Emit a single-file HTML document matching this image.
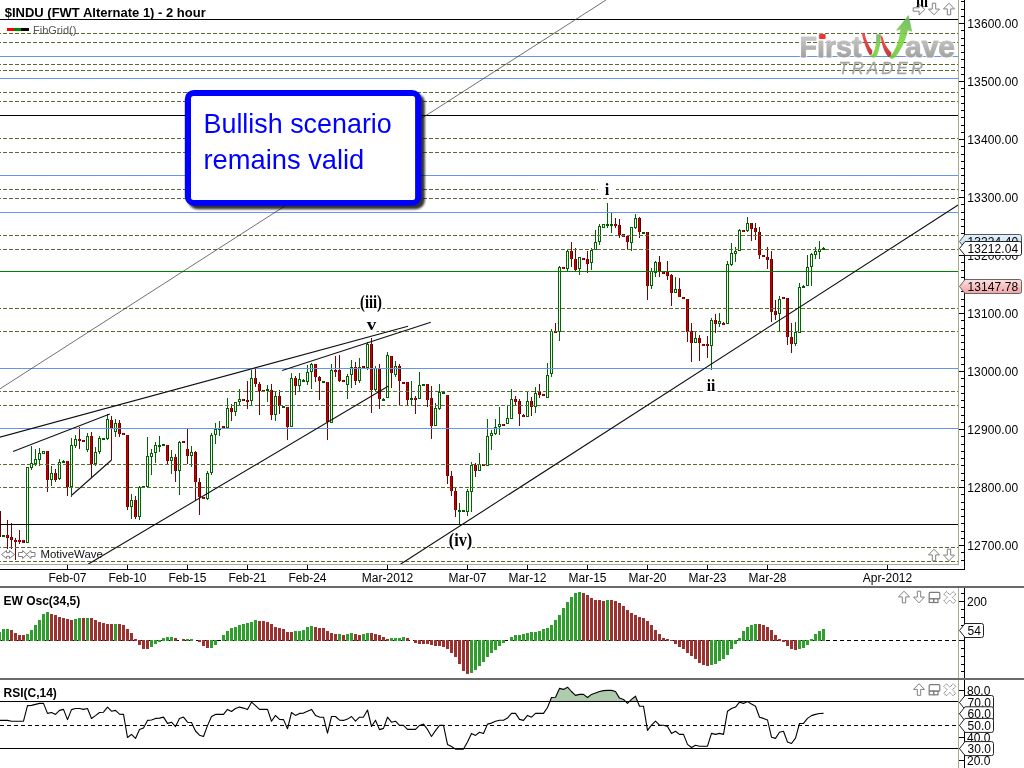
<!DOCTYPE html>
<html><head><meta charset="utf-8"><title>$INDU (FWT Alternate 1) - 2 hour</title>
<style>
html,body{margin:0;padding:0;background:#fff;}
body{width:1024px;height:768px;overflow:hidden;}
svg{display:block;}
text{font-family:"Liberation Sans",Arial,sans-serif;}
svg{opacity:0.999;}
.ax{font-size:12px;fill:#000;}
.b{font-weight:bold;font-size:12px;fill:#000;}
.w{font-family:"Liberation Serif","Times New Roman",serif;font-weight:bold;fill:#000;}
</style></head><body>
<svg width="1024" height="768" viewBox="0 0 1024 768">
<defs>
<linearGradient id="gp" x1="0" y1="0" x2="0" y2="1"><stop offset="0" stop-color="#fde0e0"/><stop offset="1" stop-color="#f2a4a4"/></linearGradient>
<linearGradient id="gb" x1="0" y1="0" x2="0" y2="1"><stop offset="0" stop-color="#e4f2fc"/><stop offset="1" stop-color="#b9d9f0"/></linearGradient>
<linearGradient id="gl" x1="0" y1="0" x2="0" y2="1"><stop offset="0" stop-color="#d2d2d2"/><stop offset="0.55" stop-color="#a9a9a9"/><stop offset="1" stop-color="#8a8a8a"/></linearGradient>
<linearGradient id="gg" x1="0" y1="1" x2="0.3" y2="0"><stop offset="0" stop-color="#6cc43a"/><stop offset="0.5" stop-color="#7ed63e"/><stop offset="1" stop-color="#6dbb58"/></linearGradient>
<linearGradient id="gr" x1="0" y1="0" x2="0.3" y2="1"><stop offset="0" stop-color="#ff3c3c"/><stop offset="1" stop-color="#bd2a2e"/></linearGradient>
<filter id="sh" x="-10%" y="-10%" width="125%" height="130%"><feGaussianBlur stdDeviation="1.2"/></filter>
<clipPath id="cp"><rect x="0" y="0" width="959" height="565"/></clipPath>
</defs>
<rect width="1024" height="768" fill="#fff"/>
<g id="candles" shape-rendering="crispEdges" clip-path="url(#cp)">
<rect x="-2" y="511" width="1" height="26" fill="#8f0000"/><rect x="-1" y="511" width="1" height="26" fill="#c40000"/><rect x="0" y="511" width="1" height="26" fill="#560000"/>
<rect x="2" y="535" width="3" height="2" fill="#005a00"/>
<rect x="7" y="520" width="1" height="29" fill="#7d0000"/>
<rect x="6" y="535" width="1" height="3" fill="#8f0000"/><rect x="7" y="535" width="1" height="3" fill="#c40000"/><rect x="8" y="535" width="1" height="3" fill="#560000"/>
<rect x="11" y="523" width="1" height="26" fill="#7d0000"/>
<rect x="10" y="537" width="1" height="3" fill="#8f0000"/><rect x="11" y="537" width="1" height="3" fill="#c40000"/><rect x="12" y="537" width="1" height="3" fill="#560000"/>
<rect x="15" y="538" width="1" height="22" fill="#7d0000"/>
<rect x="14" y="540" width="1" height="2" fill="#8f0000"/><rect x="15" y="540" width="1" height="2" fill="#c40000"/><rect x="16" y="540" width="1" height="2" fill="#560000"/>
<rect x="19" y="530" width="1" height="14" fill="#7d0000"/>
<rect x="18" y="540" width="1" height="2" fill="#8f0000"/><rect x="19" y="540" width="1" height="2" fill="#c40000"/><rect x="20" y="540" width="1" height="2" fill="#560000"/>
<rect x="22" y="540" width="1" height="3" fill="#8f0000"/><rect x="23" y="540" width="1" height="3" fill="#c40000"/><rect x="24" y="540" width="1" height="3" fill="#560000"/>
<rect x="26" y="467" width="3" height="76" fill="#006400"/><rect x="27" y="468" width="1" height="74" fill="#fff"/>
<rect x="31" y="446" width="1" height="24" fill="#006400"/>
<rect x="30" y="463" width="3" height="5" fill="#006400"/><rect x="31" y="464" width="1" height="3" fill="#fff"/>
<rect x="35" y="449" width="1" height="17" fill="#006400"/>
<rect x="34" y="459" width="3" height="5" fill="#006400"/><rect x="35" y="460" width="1" height="3" fill="#fff"/>
<rect x="39" y="448" width="1" height="18" fill="#006400"/>
<rect x="38" y="453" width="3" height="7" fill="#006400"/><rect x="39" y="454" width="1" height="5" fill="#fff"/>
<rect x="42" y="451" width="3" height="3" fill="#006400"/><rect x="43" y="452" width="1" height="1" fill="#fff"/>
<rect x="47" y="451" width="1" height="41" fill="#7d0000"/>
<rect x="46" y="451" width="1" height="29" fill="#8f0000"/><rect x="47" y="451" width="1" height="29" fill="#c40000"/><rect x="48" y="451" width="1" height="29" fill="#560000"/>
<rect x="51" y="466" width="1" height="20" fill="#006400"/>
<rect x="50" y="473" width="3" height="7" fill="#006400"/><rect x="51" y="474" width="1" height="5" fill="#fff"/>
<rect x="55" y="469" width="1" height="13" fill="#7d0000"/>
<rect x="54" y="473" width="1" height="7" fill="#8f0000"/><rect x="55" y="473" width="1" height="7" fill="#c40000"/><rect x="56" y="473" width="1" height="7" fill="#560000"/>
<rect x="59" y="459" width="1" height="21" fill="#006400"/>
<rect x="58" y="462" width="3" height="17" fill="#006400"/><rect x="59" y="463" width="1" height="15" fill="#fff"/>
<rect x="63" y="460" width="1" height="3" fill="#006400"/>
<rect x="62" y="461" width="3" height="2" fill="#005a00"/>
<rect x="67" y="461" width="1" height="35" fill="#7d0000"/>
<rect x="66" y="461" width="1" height="26" fill="#8f0000"/><rect x="67" y="461" width="1" height="26" fill="#c40000"/><rect x="68" y="461" width="1" height="26" fill="#560000"/>
<rect x="71" y="438" width="1" height="59" fill="#006400"/>
<rect x="70" y="445" width="3" height="42" fill="#006400"/><rect x="71" y="446" width="1" height="40" fill="#fff"/>
<rect x="75" y="435" width="1" height="13" fill="#006400"/>
<rect x="74" y="439" width="3" height="7" fill="#006400"/><rect x="75" y="440" width="1" height="5" fill="#fff"/>
<rect x="79" y="427" width="1" height="22" fill="#7d0000"/>
<rect x="78" y="439" width="1" height="2" fill="#8f0000"/><rect x="79" y="439" width="1" height="2" fill="#c40000"/><rect x="80" y="439" width="1" height="2" fill="#560000"/>
<rect x="82" y="440" width="1" height="2" fill="#8f0000"/><rect x="83" y="440" width="1" height="2" fill="#c40000"/><rect x="84" y="440" width="1" height="2" fill="#560000"/>
<rect x="87" y="433" width="1" height="19" fill="#006400"/>
<rect x="86" y="436" width="3" height="14" fill="#006400"/><rect x="87" y="437" width="1" height="12" fill="#fff"/>
<rect x="91" y="432" width="1" height="45" fill="#7d0000"/>
<rect x="90" y="436" width="1" height="28" fill="#8f0000"/><rect x="91" y="436" width="1" height="28" fill="#c40000"/><rect x="92" y="436" width="1" height="28" fill="#560000"/>
<rect x="95" y="447" width="1" height="19" fill="#006400"/>
<rect x="94" y="452" width="3" height="12" fill="#006400"/><rect x="95" y="453" width="1" height="10" fill="#fff"/>
<rect x="99" y="436" width="1" height="18" fill="#006400"/>
<rect x="98" y="438" width="3" height="14" fill="#006400"/><rect x="99" y="439" width="1" height="12" fill="#fff"/>
<rect x="102" y="438" width="3" height="2" fill="#005a00"/>
<rect x="107" y="414" width="1" height="26" fill="#006400"/>
<rect x="106" y="419" width="3" height="20" fill="#006400"/><rect x="107" y="420" width="1" height="18" fill="#fff"/>
<rect x="111" y="416" width="1" height="44" fill="#7d0000"/>
<rect x="110" y="420" width="1" height="8" fill="#8f0000"/><rect x="111" y="420" width="1" height="8" fill="#c40000"/><rect x="112" y="420" width="1" height="8" fill="#560000"/>
<rect x="115" y="419" width="1" height="18" fill="#006400"/>
<rect x="114" y="423" width="3" height="9" fill="#006400"/><rect x="115" y="424" width="1" height="7" fill="#fff"/>
<rect x="119" y="420" width="1" height="17" fill="#7d0000"/>
<rect x="118" y="423" width="1" height="11" fill="#8f0000"/><rect x="119" y="423" width="1" height="11" fill="#c40000"/><rect x="120" y="423" width="1" height="11" fill="#560000"/>
<rect x="122" y="433" width="1" height="2" fill="#8f0000"/><rect x="123" y="433" width="1" height="2" fill="#c40000"/><rect x="124" y="433" width="1" height="2" fill="#560000"/>
<rect x="127" y="435" width="1" height="75" fill="#7d0000"/>
<rect x="126" y="435" width="1" height="72" fill="#8f0000"/><rect x="127" y="435" width="1" height="72" fill="#c40000"/><rect x="128" y="435" width="1" height="72" fill="#560000"/>
<rect x="131" y="494" width="1" height="25" fill="#006400"/>
<rect x="130" y="500" width="3" height="7" fill="#006400"/><rect x="131" y="501" width="1" height="5" fill="#fff"/>
<rect x="135" y="496" width="1" height="23" fill="#7d0000"/>
<rect x="134" y="500" width="1" height="17" fill="#8f0000"/><rect x="135" y="500" width="1" height="17" fill="#c40000"/><rect x="136" y="500" width="1" height="17" fill="#560000"/>
<rect x="139" y="486" width="1" height="34" fill="#006400"/>
<rect x="138" y="487" width="3" height="30" fill="#006400"/><rect x="139" y="488" width="1" height="28" fill="#fff"/>
<rect x="142" y="486" width="3" height="2" fill="#005a00"/>
<rect x="147" y="437" width="1" height="50" fill="#006400"/>
<rect x="146" y="456" width="3" height="31" fill="#006400"/><rect x="147" y="457" width="1" height="29" fill="#fff"/>
<rect x="151" y="449" width="1" height="26" fill="#006400"/>
<rect x="150" y="453" width="3" height="4" fill="#006400"/><rect x="151" y="454" width="1" height="2" fill="#fff"/>
<rect x="155" y="442" width="1" height="21" fill="#006400"/>
<rect x="154" y="445" width="3" height="8" fill="#006400"/><rect x="155" y="446" width="1" height="6" fill="#fff"/>
<rect x="159" y="436" width="1" height="16" fill="#006400"/>
<rect x="158" y="445" width="3" height="2" fill="#005a00"/>
<rect x="162" y="444" width="3" height="2" fill="#005a00"/>
<rect x="167" y="445" width="1" height="19" fill="#7d0000"/>
<rect x="166" y="445" width="1" height="16" fill="#8f0000"/><rect x="167" y="445" width="1" height="16" fill="#c40000"/><rect x="168" y="445" width="1" height="16" fill="#560000"/>
<rect x="171" y="450" width="1" height="24" fill="#006400"/>
<rect x="170" y="457" width="3" height="4" fill="#006400"/><rect x="171" y="458" width="1" height="2" fill="#fff"/>
<rect x="175" y="454" width="1" height="28" fill="#7d0000"/>
<rect x="174" y="457" width="1" height="14" fill="#8f0000"/><rect x="175" y="457" width="1" height="14" fill="#c40000"/><rect x="176" y="457" width="1" height="14" fill="#560000"/>
<rect x="179" y="441" width="1" height="54" fill="#006400"/>
<rect x="178" y="442" width="3" height="29" fill="#006400"/><rect x="179" y="443" width="1" height="27" fill="#fff"/>
<rect x="182" y="441" width="1" height="2" fill="#8f0000"/><rect x="183" y="441" width="1" height="2" fill="#c40000"/><rect x="184" y="441" width="1" height="2" fill="#560000"/>
<rect x="187" y="429" width="1" height="35" fill="#7d0000"/>
<rect x="186" y="449" width="1" height="7" fill="#8f0000"/><rect x="187" y="449" width="1" height="7" fill="#c40000"/><rect x="188" y="449" width="1" height="7" fill="#560000"/>
<rect x="191" y="446" width="1" height="21" fill="#006400"/>
<rect x="190" y="452" width="3" height="4" fill="#006400"/><rect x="191" y="453" width="1" height="2" fill="#fff"/>
<rect x="195" y="451" width="1" height="49" fill="#7d0000"/>
<rect x="194" y="452" width="1" height="30" fill="#8f0000"/><rect x="195" y="452" width="1" height="30" fill="#c40000"/><rect x="196" y="452" width="1" height="30" fill="#560000"/>
<rect x="199" y="478" width="1" height="37" fill="#7d0000"/>
<rect x="198" y="482" width="1" height="15" fill="#8f0000"/><rect x="199" y="482" width="1" height="15" fill="#c40000"/><rect x="200" y="482" width="1" height="15" fill="#560000"/>
<rect x="202" y="497" width="1" height="2" fill="#8f0000"/><rect x="203" y="497" width="1" height="2" fill="#c40000"/><rect x="204" y="497" width="1" height="2" fill="#560000"/>
<rect x="207" y="471" width="1" height="29" fill="#006400"/>
<rect x="206" y="473" width="3" height="26" fill="#006400"/><rect x="207" y="474" width="1" height="24" fill="#fff"/>
<rect x="211" y="433" width="1" height="42" fill="#006400"/>
<rect x="210" y="435" width="3" height="38" fill="#006400"/><rect x="211" y="436" width="1" height="36" fill="#fff"/>
<rect x="215" y="423" width="1" height="21" fill="#006400"/>
<rect x="214" y="429" width="3" height="6" fill="#006400"/><rect x="215" y="430" width="1" height="4" fill="#fff"/>
<rect x="219" y="421" width="1" height="15" fill="#006400"/>
<rect x="218" y="428" width="3" height="2" fill="#005a00"/>
<rect x="222" y="426" width="1" height="2" fill="#8f0000"/><rect x="223" y="426" width="1" height="2" fill="#c40000"/><rect x="224" y="426" width="1" height="2" fill="#560000"/>
<rect x="227" y="398" width="1" height="30" fill="#006400"/>
<rect x="226" y="408" width="3" height="20" fill="#006400"/><rect x="227" y="409" width="1" height="18" fill="#fff"/>
<rect x="231" y="404" width="1" height="17" fill="#7d0000"/>
<rect x="230" y="408" width="1" height="4" fill="#8f0000"/><rect x="231" y="408" width="1" height="4" fill="#c40000"/><rect x="232" y="408" width="1" height="4" fill="#560000"/>
<rect x="235" y="402" width="1" height="14" fill="#006400"/>
<rect x="234" y="402" width="3" height="10" fill="#006400"/><rect x="235" y="403" width="1" height="8" fill="#fff"/>
<rect x="239" y="389" width="1" height="16" fill="#006400"/>
<rect x="238" y="399" width="3" height="3" fill="#006400"/><rect x="239" y="400" width="1" height="1" fill="#fff"/>
<rect x="242" y="399" width="1" height="2" fill="#8f0000"/><rect x="243" y="399" width="1" height="2" fill="#c40000"/><rect x="244" y="399" width="1" height="2" fill="#560000"/>
<rect x="247" y="381" width="1" height="28" fill="#7d0000"/>
<rect x="246" y="400" width="1" height="2" fill="#8f0000"/><rect x="247" y="400" width="1" height="2" fill="#c40000"/><rect x="248" y="400" width="1" height="2" fill="#560000"/>
<rect x="251" y="370" width="1" height="35" fill="#006400"/>
<rect x="250" y="378" width="3" height="23" fill="#006400"/><rect x="251" y="379" width="1" height="21" fill="#fff"/>
<rect x="255" y="369" width="1" height="18" fill="#7d0000"/>
<rect x="254" y="378" width="1" height="6" fill="#8f0000"/><rect x="255" y="378" width="1" height="6" fill="#c40000"/><rect x="256" y="378" width="1" height="6" fill="#560000"/>
<rect x="259" y="382" width="1" height="33" fill="#7d0000"/>
<rect x="258" y="384" width="1" height="7" fill="#8f0000"/><rect x="259" y="384" width="1" height="7" fill="#c40000"/><rect x="260" y="384" width="1" height="7" fill="#560000"/>
<rect x="262" y="390" width="1" height="2" fill="#8f0000"/><rect x="263" y="390" width="1" height="2" fill="#c40000"/><rect x="264" y="390" width="1" height="2" fill="#560000"/>
<rect x="267" y="385" width="1" height="17" fill="#006400"/>
<rect x="266" y="389" width="3" height="2" fill="#005a00"/>
<rect x="271" y="384" width="1" height="36" fill="#7d0000"/>
<rect x="270" y="390" width="1" height="25" fill="#8f0000"/><rect x="271" y="390" width="1" height="25" fill="#c40000"/><rect x="272" y="390" width="1" height="25" fill="#560000"/>
<rect x="275" y="392" width="1" height="29" fill="#006400"/>
<rect x="274" y="396" width="3" height="19" fill="#006400"/><rect x="275" y="397" width="1" height="17" fill="#fff"/>
<rect x="279" y="390" width="1" height="24" fill="#7d0000"/>
<rect x="278" y="396" width="1" height="10" fill="#8f0000"/><rect x="279" y="396" width="1" height="10" fill="#c40000"/><rect x="280" y="396" width="1" height="10" fill="#560000"/>
<rect x="282" y="406" width="3" height="2" fill="#005a00"/>
<rect x="287" y="407" width="1" height="33" fill="#7d0000"/>
<rect x="286" y="407" width="1" height="20" fill="#8f0000"/><rect x="287" y="407" width="1" height="20" fill="#c40000"/><rect x="288" y="407" width="1" height="20" fill="#560000"/>
<rect x="291" y="373" width="1" height="54" fill="#006400"/>
<rect x="290" y="378" width="3" height="49" fill="#006400"/><rect x="291" y="379" width="1" height="47" fill="#fff"/>
<rect x="295" y="376" width="1" height="19" fill="#7d0000"/>
<rect x="294" y="378" width="1" height="8" fill="#8f0000"/><rect x="295" y="378" width="1" height="8" fill="#c40000"/><rect x="296" y="378" width="1" height="8" fill="#560000"/>
<rect x="299" y="373" width="1" height="18" fill="#006400"/>
<rect x="298" y="379" width="3" height="7" fill="#006400"/><rect x="299" y="380" width="1" height="5" fill="#fff"/>
<rect x="303" y="379" width="1" height="3" fill="#006400"/>
<rect x="302" y="380" width="3" height="2" fill="#005a00"/>
<rect x="307" y="365" width="1" height="20" fill="#006400"/>
<rect x="306" y="372" width="3" height="10" fill="#006400"/><rect x="307" y="373" width="1" height="8" fill="#fff"/>
<rect x="311" y="363" width="1" height="26" fill="#006400"/>
<rect x="310" y="364" width="3" height="8" fill="#006400"/><rect x="311" y="365" width="1" height="6" fill="#fff"/>
<rect x="315" y="364" width="1" height="18" fill="#7d0000"/>
<rect x="314" y="364" width="1" height="13" fill="#8f0000"/><rect x="315" y="364" width="1" height="13" fill="#c40000"/><rect x="316" y="364" width="1" height="13" fill="#560000"/>
<rect x="319" y="376" width="1" height="24" fill="#7d0000"/>
<rect x="318" y="377" width="1" height="4" fill="#8f0000"/><rect x="319" y="377" width="1" height="4" fill="#c40000"/><rect x="320" y="377" width="1" height="4" fill="#560000"/>
<rect x="322" y="381" width="3" height="2" fill="#005a00"/>
<rect x="327" y="382" width="1" height="58" fill="#7d0000"/>
<rect x="326" y="382" width="1" height="40" fill="#8f0000"/><rect x="327" y="382" width="1" height="40" fill="#c40000"/><rect x="328" y="382" width="1" height="40" fill="#560000"/>
<rect x="331" y="364" width="1" height="59" fill="#006400"/>
<rect x="330" y="370" width="3" height="53" fill="#006400"/><rect x="331" y="371" width="1" height="51" fill="#fff"/>
<rect x="335" y="356" width="1" height="21" fill="#7d0000"/>
<rect x="334" y="370" width="1" height="2" fill="#8f0000"/><rect x="335" y="370" width="1" height="2" fill="#c40000"/><rect x="336" y="370" width="1" height="2" fill="#560000"/>
<rect x="339" y="355" width="1" height="27" fill="#7d0000"/>
<rect x="338" y="370" width="1" height="11" fill="#8f0000"/><rect x="339" y="370" width="1" height="11" fill="#c40000"/><rect x="340" y="370" width="1" height="11" fill="#560000"/>
<rect x="342" y="380" width="1" height="2" fill="#8f0000"/><rect x="343" y="380" width="1" height="2" fill="#c40000"/><rect x="344" y="380" width="1" height="2" fill="#560000"/>
<rect x="347" y="374" width="1" height="25" fill="#006400"/>
<rect x="346" y="376" width="3" height="9" fill="#006400"/><rect x="347" y="377" width="1" height="7" fill="#fff"/>
<rect x="351" y="360" width="1" height="28" fill="#006400"/>
<rect x="350" y="367" width="3" height="8" fill="#006400"/><rect x="351" y="368" width="1" height="6" fill="#fff"/>
<rect x="355" y="362" width="1" height="23" fill="#7d0000"/>
<rect x="354" y="367" width="1" height="14" fill="#8f0000"/><rect x="355" y="367" width="1" height="14" fill="#c40000"/><rect x="356" y="367" width="1" height="14" fill="#560000"/>
<rect x="359" y="358" width="1" height="25" fill="#006400"/>
<rect x="358" y="367" width="3" height="14" fill="#006400"/><rect x="359" y="368" width="1" height="12" fill="#fff"/>
<rect x="362" y="366" width="1" height="2" fill="#8f0000"/><rect x="363" y="366" width="1" height="2" fill="#c40000"/><rect x="364" y="366" width="1" height="2" fill="#560000"/>
<rect x="367" y="342" width="1" height="28" fill="#006400"/>
<rect x="366" y="344" width="3" height="24" fill="#006400"/><rect x="367" y="345" width="1" height="22" fill="#fff"/>
<rect x="371" y="338" width="1" height="75" fill="#7d0000"/>
<rect x="370" y="344" width="1" height="46" fill="#8f0000"/><rect x="371" y="344" width="1" height="46" fill="#c40000"/><rect x="372" y="344" width="1" height="46" fill="#560000"/>
<rect x="375" y="366" width="1" height="26" fill="#006400"/>
<rect x="374" y="368" width="3" height="22" fill="#006400"/><rect x="375" y="369" width="1" height="20" fill="#fff"/>
<rect x="379" y="364" width="1" height="45" fill="#7d0000"/>
<rect x="378" y="368" width="1" height="31" fill="#8f0000"/><rect x="379" y="368" width="1" height="31" fill="#c40000"/><rect x="380" y="368" width="1" height="31" fill="#560000"/>
<rect x="383" y="398" width="1" height="3" fill="#006400"/>
<rect x="382" y="399" width="3" height="2" fill="#005a00"/>
<rect x="387" y="352" width="1" height="46" fill="#006400"/>
<rect x="386" y="355" width="3" height="43" fill="#006400"/><rect x="387" y="356" width="1" height="41" fill="#fff"/>
<rect x="391" y="356" width="1" height="32" fill="#7d0000"/>
<rect x="390" y="356" width="1" height="17" fill="#8f0000"/><rect x="391" y="356" width="1" height="17" fill="#c40000"/><rect x="392" y="356" width="1" height="17" fill="#560000"/>
<rect x="395" y="361" width="1" height="16" fill="#006400"/>
<rect x="394" y="366" width="3" height="9" fill="#006400"/><rect x="395" y="367" width="1" height="7" fill="#fff"/>
<rect x="399" y="364" width="1" height="41" fill="#7d0000"/>
<rect x="398" y="366" width="1" height="15" fill="#8f0000"/><rect x="399" y="366" width="1" height="15" fill="#c40000"/><rect x="400" y="366" width="1" height="15" fill="#560000"/>
<rect x="402" y="382" width="1" height="2" fill="#8f0000"/><rect x="403" y="382" width="1" height="2" fill="#c40000"/><rect x="404" y="382" width="1" height="2" fill="#560000"/>
<rect x="407" y="382" width="1" height="23" fill="#7d0000"/>
<rect x="406" y="382" width="1" height="18" fill="#8f0000"/><rect x="407" y="382" width="1" height="18" fill="#c40000"/><rect x="408" y="382" width="1" height="18" fill="#560000"/>
<rect x="411" y="381" width="1" height="24" fill="#006400"/>
<rect x="410" y="398" width="3" height="2" fill="#005a00"/>
<rect x="415" y="396" width="1" height="18" fill="#7d0000"/>
<rect x="414" y="398" width="1" height="2" fill="#8f0000"/><rect x="415" y="398" width="1" height="2" fill="#c40000"/><rect x="416" y="398" width="1" height="2" fill="#560000"/>
<rect x="419" y="372" width="1" height="27" fill="#006400"/>
<rect x="418" y="385" width="3" height="14" fill="#006400"/><rect x="419" y="386" width="1" height="12" fill="#fff"/>
<rect x="422" y="384" width="3" height="2" fill="#005a00"/>
<rect x="427" y="384" width="1" height="23" fill="#7d0000"/>
<rect x="426" y="384" width="1" height="16" fill="#8f0000"/><rect x="427" y="384" width="1" height="16" fill="#c40000"/><rect x="428" y="384" width="1" height="16" fill="#560000"/>
<rect x="431" y="386" width="1" height="53" fill="#7d0000"/>
<rect x="430" y="398" width="1" height="28" fill="#8f0000"/><rect x="431" y="398" width="1" height="28" fill="#c40000"/><rect x="432" y="398" width="1" height="28" fill="#560000"/>
<rect x="435" y="403" width="1" height="23" fill="#006400"/>
<rect x="434" y="408" width="3" height="18" fill="#006400"/><rect x="435" y="409" width="1" height="16" fill="#fff"/>
<rect x="439" y="384" width="1" height="26" fill="#006400"/>
<rect x="438" y="392" width="3" height="17" fill="#006400"/><rect x="439" y="393" width="1" height="15" fill="#fff"/>
<rect x="442" y="392" width="3" height="2" fill="#005a00"/>
<rect x="447" y="395" width="1" height="89" fill="#7d0000"/>
<rect x="446" y="395" width="1" height="81" fill="#8f0000"/><rect x="447" y="395" width="1" height="81" fill="#c40000"/><rect x="448" y="395" width="1" height="81" fill="#560000"/>
<rect x="451" y="471" width="1" height="25" fill="#7d0000"/>
<rect x="450" y="476" width="1" height="15" fill="#8f0000"/><rect x="451" y="476" width="1" height="15" fill="#c40000"/><rect x="452" y="476" width="1" height="15" fill="#560000"/>
<rect x="455" y="488" width="1" height="29" fill="#7d0000"/>
<rect x="454" y="491" width="1" height="19" fill="#8f0000"/><rect x="455" y="491" width="1" height="19" fill="#c40000"/><rect x="456" y="491" width="1" height="19" fill="#560000"/>
<rect x="459" y="503" width="1" height="21" fill="#006400"/>
<rect x="458" y="510" width="3" height="2" fill="#005a00"/>
<rect x="462" y="510" width="3" height="2" fill="#005a00"/>
<rect x="467" y="489" width="1" height="27" fill="#006400"/>
<rect x="466" y="491" width="3" height="21" fill="#006400"/><rect x="467" y="492" width="1" height="19" fill="#fff"/>
<rect x="471" y="462" width="1" height="50" fill="#006400"/>
<rect x="470" y="465" width="3" height="27" fill="#006400"/><rect x="471" y="466" width="1" height="25" fill="#fff"/>
<rect x="475" y="463" width="1" height="14" fill="#7d0000"/>
<rect x="474" y="465" width="1" height="6" fill="#8f0000"/><rect x="475" y="465" width="1" height="6" fill="#c40000"/><rect x="476" y="465" width="1" height="6" fill="#560000"/>
<rect x="479" y="453" width="1" height="18" fill="#006400"/>
<rect x="478" y="464" width="3" height="7" fill="#006400"/><rect x="479" y="465" width="1" height="5" fill="#fff"/>
<rect x="482" y="464" width="1" height="2" fill="#8f0000"/><rect x="483" y="464" width="1" height="2" fill="#c40000"/><rect x="484" y="464" width="1" height="2" fill="#560000"/>
<rect x="487" y="419" width="1" height="47" fill="#006400"/>
<rect x="486" y="436" width="3" height="30" fill="#006400"/><rect x="487" y="437" width="1" height="28" fill="#fff"/>
<rect x="491" y="430" width="1" height="20" fill="#006400"/>
<rect x="490" y="433" width="3" height="3" fill="#006400"/><rect x="491" y="434" width="1" height="1" fill="#fff"/>
<rect x="495" y="419" width="1" height="16" fill="#006400"/>
<rect x="494" y="427" width="3" height="7" fill="#006400"/><rect x="495" y="428" width="1" height="5" fill="#fff"/>
<rect x="499" y="407" width="1" height="28" fill="#006400"/>
<rect x="498" y="424" width="3" height="3" fill="#006400"/><rect x="499" y="425" width="1" height="1" fill="#fff"/>
<rect x="502" y="424" width="1" height="2" fill="#8f0000"/><rect x="503" y="424" width="1" height="2" fill="#c40000"/><rect x="504" y="424" width="1" height="2" fill="#560000"/>
<rect x="507" y="405" width="1" height="19" fill="#006400"/>
<rect x="506" y="418" width="3" height="6" fill="#006400"/><rect x="507" y="419" width="1" height="4" fill="#fff"/>
<rect x="511" y="389" width="1" height="30" fill="#006400"/>
<rect x="510" y="399" width="3" height="20" fill="#006400"/><rect x="511" y="400" width="1" height="18" fill="#fff"/>
<rect x="515" y="396" width="1" height="9" fill="#7d0000"/>
<rect x="514" y="399" width="1" height="3" fill="#8f0000"/><rect x="515" y="399" width="1" height="3" fill="#c40000"/><rect x="516" y="399" width="1" height="3" fill="#560000"/>
<rect x="519" y="399" width="1" height="27" fill="#7d0000"/>
<rect x="518" y="401" width="1" height="13" fill="#8f0000"/><rect x="519" y="401" width="1" height="13" fill="#c40000"/><rect x="520" y="401" width="1" height="13" fill="#560000"/>
<rect x="523" y="414" width="1" height="3" fill="#7d0000"/>
<rect x="522" y="415" width="1" height="2" fill="#8f0000"/><rect x="523" y="415" width="1" height="2" fill="#c40000"/><rect x="524" y="415" width="1" height="2" fill="#560000"/>
<rect x="527" y="391" width="1" height="26" fill="#006400"/>
<rect x="526" y="401" width="3" height="16" fill="#006400"/><rect x="527" y="402" width="1" height="14" fill="#fff"/>
<rect x="531" y="397" width="1" height="19" fill="#7d0000"/>
<rect x="530" y="401" width="1" height="6" fill="#8f0000"/><rect x="531" y="401" width="1" height="6" fill="#c40000"/><rect x="532" y="401" width="1" height="6" fill="#560000"/>
<rect x="535" y="387" width="1" height="26" fill="#006400"/>
<rect x="534" y="393" width="3" height="14" fill="#006400"/><rect x="535" y="394" width="1" height="12" fill="#fff"/>
<rect x="539" y="384" width="1" height="14" fill="#7d0000"/>
<rect x="538" y="392" width="1" height="3" fill="#8f0000"/><rect x="539" y="392" width="1" height="3" fill="#c40000"/><rect x="540" y="392" width="1" height="3" fill="#560000"/>
<rect x="542" y="394" width="1" height="2" fill="#8f0000"/><rect x="543" y="394" width="1" height="2" fill="#c40000"/><rect x="544" y="394" width="1" height="2" fill="#560000"/>
<rect x="547" y="363" width="1" height="35" fill="#006400"/>
<rect x="546" y="375" width="3" height="23" fill="#006400"/><rect x="547" y="376" width="1" height="21" fill="#fff"/>
<rect x="551" y="329" width="1" height="48" fill="#006400"/>
<rect x="550" y="331" width="3" height="43" fill="#006400"/><rect x="551" y="332" width="1" height="41" fill="#fff"/>
<rect x="555" y="323" width="1" height="10" fill="#7d0000"/>
<rect x="554" y="331" width="1" height="2" fill="#8f0000"/><rect x="555" y="331" width="1" height="2" fill="#c40000"/><rect x="556" y="331" width="1" height="2" fill="#560000"/>
<rect x="559" y="266" width="1" height="75" fill="#006400"/>
<rect x="558" y="267" width="3" height="65" fill="#006400"/><rect x="559" y="268" width="1" height="63" fill="#fff"/>
<rect x="562" y="267" width="1" height="2" fill="#8f0000"/><rect x="563" y="267" width="1" height="2" fill="#c40000"/><rect x="564" y="267" width="1" height="2" fill="#560000"/>
<rect x="567" y="250" width="1" height="21" fill="#006400"/>
<rect x="566" y="251" width="3" height="18" fill="#006400"/><rect x="567" y="252" width="1" height="16" fill="#fff"/>
<rect x="571" y="242" width="1" height="25" fill="#7d0000"/>
<rect x="570" y="251" width="1" height="8" fill="#8f0000"/><rect x="571" y="251" width="1" height="8" fill="#c40000"/><rect x="572" y="251" width="1" height="8" fill="#560000"/>
<rect x="575" y="248" width="1" height="23" fill="#7d0000"/>
<rect x="574" y="259" width="1" height="11" fill="#8f0000"/><rect x="575" y="259" width="1" height="11" fill="#c40000"/><rect x="576" y="259" width="1" height="11" fill="#560000"/>
<rect x="579" y="257" width="1" height="18" fill="#006400"/>
<rect x="578" y="257" width="3" height="12" fill="#006400"/><rect x="579" y="258" width="1" height="10" fill="#fff"/>
<rect x="582" y="258" width="1" height="2" fill="#8f0000"/><rect x="583" y="258" width="1" height="2" fill="#c40000"/><rect x="584" y="258" width="1" height="2" fill="#560000"/>
<rect x="587" y="251" width="1" height="22" fill="#7d0000"/>
<rect x="586" y="259" width="1" height="5" fill="#8f0000"/><rect x="587" y="259" width="1" height="5" fill="#c40000"/><rect x="588" y="259" width="1" height="5" fill="#560000"/>
<rect x="591" y="248" width="1" height="22" fill="#006400"/>
<rect x="590" y="250" width="3" height="13" fill="#006400"/><rect x="591" y="251" width="1" height="11" fill="#fff"/>
<rect x="595" y="230" width="1" height="20" fill="#006400"/>
<rect x="594" y="242" width="3" height="8" fill="#006400"/><rect x="595" y="243" width="1" height="6" fill="#fff"/>
<rect x="599" y="224" width="1" height="21" fill="#006400"/>
<rect x="598" y="226" width="3" height="16" fill="#006400"/><rect x="599" y="227" width="1" height="14" fill="#fff"/>
<rect x="602" y="224" width="3" height="4" fill="#006400"/><rect x="603" y="225" width="1" height="2" fill="#fff"/>
<rect x="607" y="203" width="1" height="25" fill="#006400"/>
<rect x="606" y="224" width="3" height="2" fill="#005a00"/>
<rect x="611" y="213" width="1" height="20" fill="#006400"/>
<rect x="610" y="224" width="3" height="2" fill="#005a00"/>
<rect x="615" y="218" width="1" height="10" fill="#7d0000"/>
<rect x="614" y="224" width="1" height="2" fill="#8f0000"/><rect x="615" y="224" width="1" height="2" fill="#c40000"/><rect x="616" y="224" width="1" height="2" fill="#560000"/>
<rect x="619" y="219" width="1" height="19" fill="#7d0000"/>
<rect x="618" y="225" width="1" height="10" fill="#8f0000"/><rect x="619" y="225" width="1" height="10" fill="#c40000"/><rect x="620" y="225" width="1" height="10" fill="#560000"/>
<rect x="622" y="234" width="1" height="3" fill="#8f0000"/><rect x="623" y="234" width="1" height="3" fill="#c40000"/><rect x="624" y="234" width="1" height="3" fill="#560000"/>
<rect x="627" y="236" width="1" height="13" fill="#7d0000"/>
<rect x="626" y="236" width="1" height="6" fill="#8f0000"/><rect x="627" y="236" width="1" height="6" fill="#c40000"/><rect x="628" y="236" width="1" height="6" fill="#560000"/>
<rect x="631" y="227" width="1" height="24" fill="#006400"/>
<rect x="630" y="227" width="3" height="16" fill="#006400"/><rect x="631" y="228" width="1" height="14" fill="#fff"/>
<rect x="635" y="214" width="1" height="15" fill="#006400"/>
<rect x="634" y="218" width="3" height="10" fill="#006400"/><rect x="635" y="219" width="1" height="8" fill="#fff"/>
<rect x="639" y="217" width="1" height="21" fill="#7d0000"/>
<rect x="638" y="218" width="1" height="14" fill="#8f0000"/><rect x="639" y="218" width="1" height="14" fill="#c40000"/><rect x="640" y="218" width="1" height="14" fill="#560000"/>
<rect x="642" y="232" width="3" height="2" fill="#005a00"/>
<rect x="647" y="232" width="1" height="68" fill="#7d0000"/>
<rect x="646" y="232" width="1" height="54" fill="#8f0000"/><rect x="647" y="232" width="1" height="54" fill="#c40000"/><rect x="648" y="232" width="1" height="54" fill="#560000"/>
<rect x="651" y="268" width="1" height="21" fill="#006400"/>
<rect x="650" y="271" width="3" height="15" fill="#006400"/><rect x="651" y="272" width="1" height="13" fill="#fff"/>
<rect x="655" y="261" width="1" height="16" fill="#006400"/>
<rect x="654" y="262" width="3" height="11" fill="#006400"/><rect x="655" y="263" width="1" height="9" fill="#fff"/>
<rect x="659" y="256" width="1" height="21" fill="#7d0000"/>
<rect x="658" y="262" width="1" height="9" fill="#8f0000"/><rect x="659" y="262" width="1" height="9" fill="#c40000"/><rect x="660" y="262" width="1" height="9" fill="#560000"/>
<rect x="662" y="272" width="1" height="2" fill="#8f0000"/><rect x="663" y="272" width="1" height="2" fill="#c40000"/><rect x="664" y="272" width="1" height="2" fill="#560000"/>
<rect x="667" y="261" width="1" height="19" fill="#7d0000"/>
<rect x="666" y="272" width="1" height="4" fill="#8f0000"/><rect x="667" y="272" width="1" height="4" fill="#c40000"/><rect x="668" y="272" width="1" height="4" fill="#560000"/>
<rect x="671" y="274" width="1" height="32" fill="#7d0000"/>
<rect x="670" y="275" width="1" height="18" fill="#8f0000"/><rect x="671" y="275" width="1" height="18" fill="#c40000"/><rect x="672" y="275" width="1" height="18" fill="#560000"/>
<rect x="675" y="277" width="1" height="16" fill="#006400"/>
<rect x="674" y="289" width="3" height="4" fill="#006400"/><rect x="675" y="290" width="1" height="2" fill="#fff"/>
<rect x="679" y="278" width="1" height="19" fill="#7d0000"/>
<rect x="678" y="289" width="1" height="8" fill="#8f0000"/><rect x="679" y="289" width="1" height="8" fill="#c40000"/><rect x="680" y="289" width="1" height="8" fill="#560000"/>
<rect x="682" y="297" width="1" height="2" fill="#8f0000"/><rect x="683" y="297" width="1" height="2" fill="#c40000"/><rect x="684" y="297" width="1" height="2" fill="#560000"/>
<rect x="687" y="299" width="1" height="43" fill="#7d0000"/>
<rect x="686" y="299" width="1" height="33" fill="#8f0000"/><rect x="687" y="299" width="1" height="33" fill="#c40000"/><rect x="688" y="299" width="1" height="33" fill="#560000"/>
<rect x="691" y="323" width="1" height="39" fill="#7d0000"/>
<rect x="690" y="331" width="1" height="12" fill="#8f0000"/><rect x="691" y="331" width="1" height="12" fill="#c40000"/><rect x="692" y="331" width="1" height="12" fill="#560000"/>
<rect x="695" y="331" width="1" height="12" fill="#006400"/>
<rect x="694" y="338" width="3" height="5" fill="#006400"/><rect x="695" y="339" width="1" height="3" fill="#fff"/>
<rect x="699" y="335" width="1" height="26" fill="#7d0000"/>
<rect x="698" y="338" width="1" height="5" fill="#8f0000"/><rect x="699" y="338" width="1" height="5" fill="#c40000"/><rect x="700" y="338" width="1" height="5" fill="#560000"/>
<rect x="702" y="344" width="1" height="2" fill="#8f0000"/><rect x="703" y="344" width="1" height="2" fill="#c40000"/><rect x="704" y="344" width="1" height="2" fill="#560000"/>
<rect x="707" y="336" width="1" height="22" fill="#7d0000"/>
<rect x="706" y="344" width="1" height="2" fill="#8f0000"/><rect x="707" y="344" width="1" height="2" fill="#c40000"/><rect x="708" y="344" width="1" height="2" fill="#560000"/>
<rect x="711" y="318" width="1" height="52" fill="#006400"/>
<rect x="710" y="320" width="3" height="26" fill="#006400"/><rect x="711" y="321" width="1" height="24" fill="#fff"/>
<rect x="715" y="314" width="1" height="19" fill="#7d0000"/>
<rect x="714" y="320" width="1" height="4" fill="#8f0000"/><rect x="715" y="320" width="1" height="4" fill="#c40000"/><rect x="716" y="320" width="1" height="4" fill="#560000"/>
<rect x="719" y="313" width="1" height="14" fill="#006400"/>
<rect x="718" y="321" width="3" height="3" fill="#006400"/><rect x="719" y="322" width="1" height="1" fill="#fff"/>
<rect x="723" y="322" width="1" height="3" fill="#7d0000"/>
<rect x="722" y="323" width="1" height="2" fill="#8f0000"/><rect x="723" y="323" width="1" height="2" fill="#c40000"/><rect x="724" y="323" width="1" height="2" fill="#560000"/>
<rect x="727" y="261" width="1" height="63" fill="#006400"/>
<rect x="726" y="264" width="3" height="60" fill="#006400"/><rect x="727" y="265" width="1" height="58" fill="#fff"/>
<rect x="731" y="243" width="1" height="23" fill="#006400"/>
<rect x="730" y="253" width="3" height="12" fill="#006400"/><rect x="731" y="254" width="1" height="10" fill="#fff"/>
<rect x="735" y="247" width="1" height="15" fill="#006400"/>
<rect x="734" y="251" width="3" height="3" fill="#006400"/><rect x="735" y="252" width="1" height="1" fill="#fff"/>
<rect x="739" y="229" width="1" height="22" fill="#006400"/>
<rect x="738" y="230" width="3" height="21" fill="#006400"/><rect x="739" y="231" width="1" height="19" fill="#fff"/>
<rect x="742" y="230" width="1" height="2" fill="#8f0000"/><rect x="743" y="230" width="1" height="2" fill="#c40000"/><rect x="744" y="230" width="1" height="2" fill="#560000"/>
<rect x="747" y="217" width="1" height="15" fill="#006400"/>
<rect x="746" y="223" width="3" height="8" fill="#006400"/><rect x="747" y="224" width="1" height="6" fill="#fff"/>
<rect x="751" y="223" width="1" height="18" fill="#7d0000"/>
<rect x="750" y="223" width="1" height="6" fill="#8f0000"/><rect x="751" y="223" width="1" height="6" fill="#c40000"/><rect x="752" y="223" width="1" height="6" fill="#560000"/>
<rect x="755" y="223" width="1" height="17" fill="#7d0000"/>
<rect x="754" y="228" width="1" height="4" fill="#8f0000"/><rect x="755" y="228" width="1" height="4" fill="#c40000"/><rect x="756" y="228" width="1" height="4" fill="#560000"/>
<rect x="759" y="227" width="1" height="32" fill="#7d0000"/>
<rect x="758" y="232" width="1" height="23" fill="#8f0000"/><rect x="759" y="232" width="1" height="23" fill="#c40000"/><rect x="760" y="232" width="1" height="23" fill="#560000"/>
<rect x="762" y="255" width="1" height="2" fill="#8f0000"/><rect x="763" y="255" width="1" height="2" fill="#c40000"/><rect x="764" y="255" width="1" height="2" fill="#560000"/>
<rect x="767" y="247" width="1" height="22" fill="#7d0000"/>
<rect x="766" y="257" width="1" height="3" fill="#8f0000"/><rect x="767" y="257" width="1" height="3" fill="#c40000"/><rect x="768" y="257" width="1" height="3" fill="#560000"/>
<rect x="771" y="251" width="1" height="71" fill="#7d0000"/>
<rect x="770" y="259" width="1" height="53" fill="#8f0000"/><rect x="771" y="259" width="1" height="53" fill="#c40000"/><rect x="772" y="259" width="1" height="53" fill="#560000"/>
<rect x="775" y="300" width="1" height="20" fill="#7d0000"/>
<rect x="774" y="311" width="1" height="4" fill="#8f0000"/><rect x="775" y="311" width="1" height="4" fill="#c40000"/><rect x="776" y="311" width="1" height="4" fill="#560000"/>
<rect x="779" y="296" width="1" height="35" fill="#006400"/>
<rect x="778" y="299" width="3" height="15" fill="#006400"/><rect x="779" y="300" width="1" height="13" fill="#fff"/>
<rect x="782" y="297" width="1" height="2" fill="#8f0000"/><rect x="783" y="297" width="1" height="2" fill="#c40000"/><rect x="784" y="297" width="1" height="2" fill="#560000"/>
<rect x="787" y="298" width="1" height="47" fill="#7d0000"/>
<rect x="786" y="298" width="1" height="39" fill="#8f0000"/><rect x="787" y="298" width="1" height="39" fill="#c40000"/><rect x="788" y="298" width="1" height="39" fill="#560000"/>
<rect x="791" y="323" width="1" height="30" fill="#7d0000"/>
<rect x="790" y="337" width="1" height="7" fill="#8f0000"/><rect x="791" y="337" width="1" height="7" fill="#c40000"/><rect x="792" y="337" width="1" height="7" fill="#560000"/>
<rect x="795" y="322" width="1" height="24" fill="#006400"/>
<rect x="794" y="332" width="3" height="12" fill="#006400"/><rect x="795" y="333" width="1" height="10" fill="#fff"/>
<rect x="799" y="283" width="1" height="50" fill="#006400"/>
<rect x="798" y="287" width="3" height="46" fill="#006400"/><rect x="799" y="288" width="1" height="44" fill="#fff"/>
<rect x="803" y="285" width="1" height="3" fill="#006400"/>
<rect x="802" y="286" width="3" height="2" fill="#005a00"/>
<rect x="807" y="255" width="1" height="31" fill="#006400"/>
<rect x="806" y="267" width="3" height="19" fill="#006400"/><rect x="807" y="268" width="1" height="17" fill="#fff"/>
<rect x="811" y="253" width="1" height="33" fill="#006400"/>
<rect x="810" y="254" width="3" height="13" fill="#006400"/><rect x="811" y="255" width="1" height="11" fill="#fff"/>
<rect x="815" y="247" width="1" height="12" fill="#006400"/>
<rect x="814" y="251" width="3" height="4" fill="#006400"/><rect x="815" y="252" width="1" height="2" fill="#fff"/>
<rect x="819" y="241" width="1" height="18" fill="#006400"/>
<rect x="818" y="249" width="3" height="3" fill="#006400"/><rect x="819" y="250" width="1" height="1" fill="#fff"/>
<rect x="823" y="247" width="1" height="3" fill="#006400"/>
<rect x="822" y="248" width="3" height="2" fill="#005a00"/>
</g>
<g id="fib" shape-rendering="crispEdges">
<line x1="0" y1="33.5" x2="958" y2="33.5" stroke="#556b2f" stroke-width="1" stroke-dasharray="4 2" stroke-dashoffset="3"/>
<line x1="0" y1="42.5" x2="958" y2="42.5" stroke="#556b2f" stroke-width="1" stroke-dasharray="4 2" stroke-dashoffset="3"/>
<line x1="0" y1="64.5" x2="958" y2="64.5" stroke="#556b2f" stroke-width="1" stroke-dasharray="4 2" stroke-dashoffset="3"/>
<line x1="0" y1="70.5" x2="958" y2="70.5" stroke="#556b2f" stroke-width="1" stroke-dasharray="4 2" stroke-dashoffset="3"/>
<line x1="0" y1="92.5" x2="958" y2="92.5" stroke="#556b2f" stroke-width="1" stroke-dasharray="4 2" stroke-dashoffset="3"/>
<line x1="0" y1="101.5" x2="958" y2="101.5" stroke="#556b2f" stroke-width="1" stroke-dasharray="4 2" stroke-dashoffset="3"/>
<line x1="0" y1="138.5" x2="958" y2="138.5" stroke="#556b2f" stroke-width="1" stroke-dasharray="4 2" stroke-dashoffset="3"/>
<line x1="0" y1="152.5" x2="958" y2="152.5" stroke="#556b2f" stroke-width="1" stroke-dasharray="4 2" stroke-dashoffset="3"/>
<line x1="0" y1="189.5" x2="958" y2="189.5" stroke="#556b2f" stroke-width="1" stroke-dasharray="4 2" stroke-dashoffset="3"/>
<line x1="0" y1="198.5" x2="958" y2="198.5" stroke="#556b2f" stroke-width="1" stroke-dasharray="4 2" stroke-dashoffset="3"/>
<line x1="0" y1="235.5" x2="958" y2="235.5" stroke="#556b2f" stroke-width="1" stroke-dasharray="4 2" stroke-dashoffset="3"/>
<line x1="0" y1="249.5" x2="958" y2="249.5" stroke="#556b2f" stroke-width="1" stroke-dasharray="4 2" stroke-dashoffset="3"/>
<line x1="0" y1="308.5" x2="958" y2="308.5" stroke="#556b2f" stroke-width="1" stroke-dasharray="4 2" stroke-dashoffset="3"/>
<line x1="0" y1="331.5" x2="958" y2="331.5" stroke="#556b2f" stroke-width="1" stroke-dasharray="4 2" stroke-dashoffset="3"/>
<line x1="0" y1="391.5" x2="958" y2="391.5" stroke="#556b2f" stroke-width="1" stroke-dasharray="4 2" stroke-dashoffset="3"/>
<line x1="0" y1="405.5" x2="958" y2="405.5" stroke="#556b2f" stroke-width="1" stroke-dasharray="4 2" stroke-dashoffset="3"/>
<line x1="0" y1="464.5" x2="958" y2="464.5" stroke="#556b2f" stroke-width="1" stroke-dasharray="4 2" stroke-dashoffset="3"/>
<line x1="0" y1="487.5" x2="958" y2="487.5" stroke="#556b2f" stroke-width="1" stroke-dasharray="4 2" stroke-dashoffset="3"/>
<line x1="0" y1="547.5" x2="958" y2="547.5" stroke="#556b2f" stroke-width="1" stroke-dasharray="4 2" stroke-dashoffset="3"/>
<line x1="0" y1="561.5" x2="958" y2="561.5" stroke="#556b2f" stroke-width="1" stroke-dasharray="4 2" stroke-dashoffset="3"/>
<line x1="0" y1="56.5" x2="958" y2="56.5" stroke="#6495ed" stroke-width="1"/>
<line x1="0" y1="78.5" x2="958" y2="78.5" stroke="#6495ed" stroke-width="1"/>
<line x1="0" y1="175.5" x2="958" y2="175.5" stroke="#6495ed" stroke-width="1"/>
<line x1="0" y1="212.5" x2="958" y2="212.5" stroke="#6495ed" stroke-width="1"/>
<line x1="0" y1="368.5" x2="958" y2="368.5" stroke="#6495ed" stroke-width="1"/>
<line x1="0" y1="428.5" x2="958" y2="428.5" stroke="#6495ed" stroke-width="1"/>
<line x1="0" y1="19.5" x2="958" y2="19.5" stroke="#000" stroke-width="1"/>
<line x1="0" y1="115.5" x2="958" y2="115.5" stroke="#000" stroke-width="1"/>
<line x1="0" y1="524.5" x2="958" y2="524.5" stroke="#000" stroke-width="1"/>
<line x1="0" y1="271.5" x2="958" y2="271.5" stroke="#008000" stroke-width="1"/>
</g>
<g id="logo">
<g font-size="30" font-weight="bold" stroke-linejoin="round">
<text x="799.5" y="56.7" fill="#fff" stroke="#fff" stroke-width="3.2" opacity="0.7" textLength="62" lengthAdjust="spacingAndGlyphs">First</text>
<text x="905" y="56.7" fill="#fff" stroke="#fff" stroke-width="3.2" opacity="0.7">ave</text>
<g opacity="0.88">
<text x="799.5" y="56.7" fill="url(#gl)" stroke="url(#gl)" stroke-width="0.9" textLength="62" lengthAdjust="spacingAndGlyphs">First</text>
<text x="905" y="56.7" fill="url(#gl)" stroke="url(#gl)" stroke-width="0.9">ave</text>
</g></g>
<rect x="819.2" y="33.9" width="6.4" height="5.2" rx="1.2" fill="#ee3535"/>
<text x="838.5" y="74.2" font-size="16.8" font-style="italic" fill="#9c9c9c" stroke="#9c9c9c" stroke-width="0.3" opacity="0.9" textLength="84.5" lengthAdjust="spacing">TRADER</text>
<g opacity="0.9">
<path d="M861.7 33 L864.5 33 C866 40 869 46.5 872.4 50.8 L872 54 L870 55.5 C866.5 50 863.5 42 861.7 33Z" fill="url(#gr)"/>
<path d="M869.9 56 C871.5 58.2 875 58.2 876.6 56 C879.5 51 880.7 42 880.9 34.2 L876.2 34.2 C876.4 42 875.5 50 872.3 54.5 Z" fill="url(#gg)"/>
<path d="M880.6 35.6 L882.2 36 C883.8 42.5 887 48.5 891.5 52.8 L891 56.2 L888.3 57 C884 52 881.5 45 880.6 35.6Z" fill="url(#gr)"/>
<path d="M889.6 57.5 C890.5 59.2 893.5 59.2 896.1 56.1 C901 50 905.5 41 907.8 30.3 L912.2 31.8 L908.6 15.1 L895.7 30.7 L900.4 29.5 C899.5 39 896.5 49 890.5 56 Z" fill="url(#gg)"/>
</g>
</g>
<g id="trend" clip-path="url(#cp)" stroke="#111" stroke-width="1.1" fill="none">
<line x1="0" y1="388.8" x2="606" y2="0" stroke="#333" stroke-width="0.7"/>
<line x1="-2" y1="437.6" x2="408" y2="326.3"/>
<line x1="13" y1="451.5" x2="109.8" y2="414"/>
<line x1="282.2" y1="370.4" x2="430.8" y2="322.3"/>
<line x1="72" y1="495" x2="111.5" y2="460"/>
<line x1="88" y1="564.3" x2="388.5" y2="386"/>
<line x1="400.4" y1="564.3" x2="958.5" y2="204.8"/>
</g>
<g id="labels">
<rect x="360" y="294" width="22.5" height="19" fill="#fff"/><text class="w" x="371" y="308" font-size="19" text-anchor="middle" textLength="22" lengthAdjust="spacingAndGlyphs">(iii)</text>
<rect x="366" y="320" width="10.5" height="12" fill="#fff"/><text class="w" x="371.6" y="330" font-size="16" text-anchor="middle" textLength="9.5" lengthAdjust="spacingAndGlyphs">v</text>
<rect x="598" y="180" width="18" height="17" fill="#fff"/><text class="w" x="607" y="195" font-size="17" text-anchor="middle" textLength="4.6" lengthAdjust="spacingAndGlyphs">i</text>
<rect x="703.5" y="377" width="14" height="15" fill="#fff"/><text class="w" x="711" y="390.8" font-size="17" text-anchor="middle" textLength="8.6" lengthAdjust="spacingAndGlyphs">ii</text>
<rect x="450" y="534" width="22" height="16" fill="#fff"/><text class="w" x="460.5" y="545.8" font-size="18.5" text-anchor="middle" textLength="23.5" lengthAdjust="spacingAndGlyphs">(iv)</text>
<text class="w" x="922" y="6.5" font-size="17" text-anchor="middle" textLength="12" lengthAdjust="spacingAndGlyphs">iii</text>
</g>
<g id="frame" shape-rendering="crispEdges">
<rect x="958" y="0" width="1" height="565" fill="#a9a98c"/>
<rect x="0" y="564" width="959" height="1" fill="#a9a98c"/>
<rect x="964" y="0" width="1" height="570" fill="#000"/>
<rect x="0" y="569" width="965" height="1" fill="#000"/>
<rect x="961" y="1" width="3" height="1" fill="#000"/>
<rect x="961" y="9" width="3" height="1" fill="#000"/>
<rect x="961" y="16" width="3" height="1" fill="#000"/>
<rect x="959" y="23" width="5" height="1" fill="#000"/>
<rect x="961" y="30" width="3" height="1" fill="#000"/>
<rect x="961" y="38" width="3" height="1" fill="#000"/>
<rect x="961" y="45" width="3" height="1" fill="#000"/>
<rect x="961" y="52" width="3" height="1" fill="#000"/>
<rect x="961" y="59" width="3" height="1" fill="#000"/>
<rect x="961" y="67" width="3" height="1" fill="#000"/>
<rect x="961" y="74" width="3" height="1" fill="#000"/>
<rect x="959" y="81" width="5" height="1" fill="#000"/>
<rect x="961" y="88" width="3" height="1" fill="#000"/>
<rect x="961" y="96" width="3" height="1" fill="#000"/>
<rect x="961" y="103" width="3" height="1" fill="#000"/>
<rect x="961" y="110" width="3" height="1" fill="#000"/>
<rect x="961" y="117" width="3" height="1" fill="#000"/>
<rect x="961" y="125" width="3" height="1" fill="#000"/>
<rect x="961" y="132" width="3" height="1" fill="#000"/>
<rect x="959" y="139" width="5" height="1" fill="#000"/>
<rect x="961" y="146" width="3" height="1" fill="#000"/>
<rect x="961" y="154" width="3" height="1" fill="#000"/>
<rect x="961" y="161" width="3" height="1" fill="#000"/>
<rect x="961" y="168" width="3" height="1" fill="#000"/>
<rect x="961" y="175" width="3" height="1" fill="#000"/>
<rect x="961" y="183" width="3" height="1" fill="#000"/>
<rect x="961" y="190" width="3" height="1" fill="#000"/>
<rect x="959" y="197" width="5" height="1" fill="#000"/>
<rect x="961" y="204" width="3" height="1" fill="#000"/>
<rect x="961" y="212" width="3" height="1" fill="#000"/>
<rect x="961" y="219" width="3" height="1" fill="#000"/>
<rect x="961" y="226" width="3" height="1" fill="#000"/>
<rect x="961" y="233" width="3" height="1" fill="#000"/>
<rect x="961" y="241" width="3" height="1" fill="#000"/>
<rect x="961" y="248" width="3" height="1" fill="#000"/>
<rect x="959" y="255" width="5" height="1" fill="#000"/>
<rect x="961" y="262" width="3" height="1" fill="#000"/>
<rect x="961" y="270" width="3" height="1" fill="#000"/>
<rect x="961" y="277" width="3" height="1" fill="#000"/>
<rect x="961" y="284" width="3" height="1" fill="#000"/>
<rect x="961" y="291" width="3" height="1" fill="#000"/>
<rect x="961" y="299" width="3" height="1" fill="#000"/>
<rect x="961" y="306" width="3" height="1" fill="#000"/>
<rect x="959" y="313" width="5" height="1" fill="#000"/>
<rect x="961" y="320" width="3" height="1" fill="#000"/>
<rect x="961" y="328" width="3" height="1" fill="#000"/>
<rect x="961" y="335" width="3" height="1" fill="#000"/>
<rect x="961" y="342" width="3" height="1" fill="#000"/>
<rect x="961" y="349" width="3" height="1" fill="#000"/>
<rect x="961" y="357" width="3" height="1" fill="#000"/>
<rect x="961" y="364" width="3" height="1" fill="#000"/>
<rect x="959" y="371" width="5" height="1" fill="#000"/>
<rect x="961" y="378" width="3" height="1" fill="#000"/>
<rect x="961" y="386" width="3" height="1" fill="#000"/>
<rect x="961" y="393" width="3" height="1" fill="#000"/>
<rect x="961" y="400" width="3" height="1" fill="#000"/>
<rect x="961" y="407" width="3" height="1" fill="#000"/>
<rect x="961" y="415" width="3" height="1" fill="#000"/>
<rect x="961" y="422" width="3" height="1" fill="#000"/>
<rect x="959" y="429" width="5" height="1" fill="#000"/>
<rect x="961" y="436" width="3" height="1" fill="#000"/>
<rect x="961" y="444" width="3" height="1" fill="#000"/>
<rect x="961" y="451" width="3" height="1" fill="#000"/>
<rect x="961" y="458" width="3" height="1" fill="#000"/>
<rect x="961" y="465" width="3" height="1" fill="#000"/>
<rect x="961" y="473" width="3" height="1" fill="#000"/>
<rect x="961" y="480" width="3" height="1" fill="#000"/>
<rect x="959" y="487" width="5" height="1" fill="#000"/>
<rect x="961" y="494" width="3" height="1" fill="#000"/>
<rect x="961" y="502" width="3" height="1" fill="#000"/>
<rect x="961" y="509" width="3" height="1" fill="#000"/>
<rect x="961" y="516" width="3" height="1" fill="#000"/>
<rect x="961" y="523" width="3" height="1" fill="#000"/>
<rect x="961" y="531" width="3" height="1" fill="#000"/>
<rect x="961" y="538" width="3" height="1" fill="#000"/>
<rect x="959" y="545" width="5" height="1" fill="#000"/>
<rect x="961" y="552" width="3" height="1" fill="#000"/>
<rect x="961" y="560" width="3" height="1" fill="#000"/>
<rect x="67" y="565" width="1" height="4" fill="#000"/>
<rect x="127" y="565" width="1" height="4" fill="#000"/>
<rect x="187" y="565" width="1" height="4" fill="#000"/>
<rect x="247" y="565" width="1" height="4" fill="#000"/>
<rect x="307" y="565" width="1" height="4" fill="#000"/>
<rect x="387" y="565" width="1" height="4" fill="#000"/>
<rect x="467" y="565" width="1" height="4" fill="#000"/>
<rect x="527" y="565" width="1" height="4" fill="#000"/>
<rect x="587" y="565" width="1" height="4" fill="#000"/>
<rect x="647" y="565" width="1" height="4" fill="#000"/>
<rect x="707" y="565" width="1" height="4" fill="#000"/>
<rect x="767" y="565" width="1" height="4" fill="#000"/>
<rect x="887" y="565" width="1" height="4" fill="#000"/>
<rect x="0" y="586" width="1024" height="2" fill="#6a6a6a"/>
<rect x="0" y="678" width="1024" height="2" fill="#6a6a6a"/>
<rect x="958" y="588" width="1" height="90" fill="#a9a98c"/>
<rect x="964" y="588" width="1" height="90" fill="#000"/>
<rect x="961" y="593" width="3" height="1" fill="#000"/>
<rect x="959" y="601" width="5" height="1" fill="#000"/>
<rect x="961" y="609" width="3" height="1" fill="#000"/>
<rect x="961" y="617" width="3" height="1" fill="#000"/>
<rect x="961" y="625" width="3" height="1" fill="#000"/>
<rect x="961" y="632" width="3" height="1" fill="#000"/>
<rect x="959" y="640" width="5" height="1" fill="#000"/>
<rect x="961" y="648" width="3" height="1" fill="#000"/>
<rect x="961" y="656" width="3" height="1" fill="#000"/>
<rect x="961" y="664" width="3" height="1" fill="#000"/>
<rect x="961" y="671" width="3" height="1" fill="#000"/>
<rect x="958" y="680" width="1" height="88" fill="#a9a98c"/>
<rect x="964" y="680" width="1" height="88" fill="#000"/>
<rect x="959" y="690" width="5" height="1" fill="#000"/>
<rect x="959" y="702" width="5" height="1" fill="#000"/>
<rect x="959" y="713" width="5" height="1" fill="#000"/>
<rect x="959" y="725" width="5" height="1" fill="#000"/>
<rect x="959" y="737" width="5" height="1" fill="#000"/>
<rect x="959" y="748" width="5" height="1" fill="#000"/>
<rect x="959" y="760" width="5" height="1" fill="#000"/>
</g>
<g id="axlabels">
<text class="ax" x="967.3" y="27.5" textLength="51" lengthAdjust="spacing">13600.00</text>
<text class="ax" x="967.3" y="85.5" textLength="51" lengthAdjust="spacing">13500.00</text>
<text class="ax" x="967.3" y="143.5" textLength="51" lengthAdjust="spacing">13400.00</text>
<text class="ax" x="967.3" y="201.5" textLength="51" lengthAdjust="spacing">13300.00</text>
<text class="ax" x="967.3" y="259.5" textLength="51" lengthAdjust="spacing">13200.00</text>
<text class="ax" x="967.3" y="317.5" textLength="51" lengthAdjust="spacing">13100.00</text>
<text class="ax" x="967.3" y="375.5" textLength="51" lengthAdjust="spacing">13000.00</text>
<text class="ax" x="967.3" y="433.5" textLength="51" lengthAdjust="spacing">12900.00</text>
<text class="ax" x="967.3" y="491.5" textLength="51" lengthAdjust="spacing">12800.00</text>
<text class="ax" x="967.3" y="549.5" textLength="51" lengthAdjust="spacing">12700.00</text>
<text class="ax" x="67.5" y="582" text-anchor="middle">Feb-07</text>
<text class="ax" x="127.5" y="582" text-anchor="middle">Feb-10</text>
<text class="ax" x="187.5" y="582" text-anchor="middle">Feb-15</text>
<text class="ax" x="247.5" y="582" text-anchor="middle">Feb-21</text>
<text class="ax" x="307.5" y="582" text-anchor="middle">Feb-24</text>
<text class="ax" x="387.5" y="582" text-anchor="middle">Mar-2012</text>
<text class="ax" x="467.5" y="582" text-anchor="middle">Mar-07</text>
<text class="ax" x="527.5" y="582" text-anchor="middle">Mar-12</text>
<text class="ax" x="587.5" y="582" text-anchor="middle">Mar-15</text>
<text class="ax" x="647.5" y="582" text-anchor="middle">Mar-20</text>
<text class="ax" x="707.5" y="582" text-anchor="middle">Mar-23</text>
<text class="ax" x="767.5" y="582" text-anchor="middle">Mar-28</text>
<text class="ax" x="887.5" y="582" text-anchor="middle">Apr-2012</text>
<text class="ax" x="967" y="605.5">200</text>
<text class="ax" x="967" y="695.0">80.0</text>
<text class="ax" x="967" y="741.9">40.0</text>
<text class="ax" x="967" y="764.7">20.0</text>
</g>
<text class="b" x="4.7" y="16.7" style="font-size:13px">$INDU (FWT Alternate 1) - 2 hour</text>
<g shape-rendering="crispEdges"><rect x="7" y="28" width="7" height="3" fill="#f00"/><rect x="14" y="28" width="7" height="3" fill="#080"/><rect x="21" y="28" width="8" height="3" fill="#000"/></g>
<text x="33" y="34" font-size="11" fill="#555">FibGrid()</text>
<text class="b" x="3.5" y="605">EW Osc(34,5)</text>
<text class="b" x="3.5" y="697">RSI(C,14)</text>
<text x="40.4" y="557.5" font-size="10.4" fill="#111" textLength="62.4" lengthAdjust="spacingAndGlyphs">MotiveWave</text>
<g id="osc" shape-rendering="crispEdges">
<line x1="0" y1="640.5" x2="958" y2="640.5" stroke="#000" stroke-width="1" stroke-dasharray="4 3"/>
<rect x="-2" y="632" width="3" height="9" fill="#2f9e2f"/>
<rect x="2" y="629" width="3" height="12" fill="#2f9e2f"/>
<rect x="6" y="629" width="3" height="12" fill="#2f9e2f"/>
<rect x="10" y="630" width="3" height="11" fill="#9b3232"/>
<rect x="14" y="633" width="3" height="8" fill="#9b3232"/>
<rect x="18" y="635" width="3" height="6" fill="#9b3232"/>
<rect x="22" y="635" width="3" height="6" fill="#9b3232"/>
<rect x="26" y="634" width="3" height="7" fill="#2f9e2f"/>
<rect x="30" y="630" width="3" height="11" fill="#2f9e2f"/>
<rect x="34" y="625" width="3" height="16" fill="#2f9e2f"/>
<rect x="38" y="620" width="3" height="21" fill="#2f9e2f"/>
<rect x="42" y="614" width="3" height="27" fill="#2f9e2f"/>
<rect x="46" y="612" width="3" height="29" fill="#2f9e2f"/>
<rect x="50" y="614" width="3" height="27" fill="#9b3232"/>
<rect x="54" y="615" width="3" height="26" fill="#9b3232"/>
<rect x="58" y="617" width="3" height="24" fill="#9b3232"/>
<rect x="62" y="618" width="3" height="23" fill="#9b3232"/>
<rect x="66" y="619" width="3" height="22" fill="#9b3232"/>
<rect x="70" y="620" width="3" height="21" fill="#9b3232"/>
<rect x="74" y="619" width="3" height="22" fill="#2f9e2f"/>
<rect x="78" y="618" width="3" height="23" fill="#2f9e2f"/>
<rect x="82" y="618" width="3" height="23" fill="#9b3232"/>
<rect x="86" y="618" width="3" height="23" fill="#2f9e2f"/>
<rect x="90" y="618" width="3" height="23" fill="#9b3232"/>
<rect x="94" y="620" width="3" height="21" fill="#9b3232"/>
<rect x="98" y="622" width="3" height="19" fill="#9b3232"/>
<rect x="102" y="623" width="3" height="18" fill="#9b3232"/>
<rect x="106" y="624" width="3" height="17" fill="#9b3232"/>
<rect x="110" y="624" width="3" height="17" fill="#9b3232"/>
<rect x="114" y="624" width="3" height="17" fill="#2f9e2f"/>
<rect x="118" y="624" width="3" height="17" fill="#9b3232"/>
<rect x="122" y="625" width="3" height="16" fill="#9b3232"/>
<rect x="126" y="629" width="3" height="12" fill="#9b3232"/>
<rect x="130" y="633" width="3" height="8" fill="#9b3232"/>
<rect x="134" y="639" width="3" height="2" fill="#9b3232"/>
<rect x="138" y="640" width="3" height="5" fill="#9b3232"/>
<rect x="142" y="640" width="3" height="9" fill="#9b3232"/>
<rect x="146" y="640" width="3" height="9" fill="#9b3232"/>
<rect x="150" y="640" width="3" height="7" fill="#2f9e2f"/>
<rect x="154" y="640" width="3" height="4" fill="#2f9e2f"/>
<rect x="158" y="640" width="3" height="2" fill="#2f9e2f"/>
<rect x="162" y="638" width="3" height="3" fill="#2f9e2f"/>
<rect x="166" y="637" width="3" height="4" fill="#2f9e2f"/>
<rect x="170" y="637" width="3" height="4" fill="#2f9e2f"/>
<rect x="174" y="638" width="3" height="3" fill="#9b3232"/>
<rect x="182" y="639" width="3" height="2" fill="#9b3232"/>
<rect x="186" y="639" width="3" height="2" fill="#2f9e2f"/>
<rect x="190" y="639" width="3" height="2" fill="#2f9e2f"/>
<rect x="198" y="640" width="3" height="2" fill="#9b3232"/>
<rect x="202" y="640" width="3" height="6" fill="#9b3232"/>
<rect x="206" y="640" width="3" height="8" fill="#9b3232"/>
<rect x="210" y="640" width="3" height="8" fill="#2f9e2f"/>
<rect x="214" y="640" width="3" height="5" fill="#2f9e2f"/>
<rect x="222" y="635" width="3" height="6" fill="#2f9e2f"/>
<rect x="226" y="631" width="3" height="10" fill="#2f9e2f"/>
<rect x="230" y="628" width="3" height="13" fill="#2f9e2f"/>
<rect x="234" y="627" width="3" height="14" fill="#2f9e2f"/>
<rect x="238" y="625" width="3" height="16" fill="#2f9e2f"/>
<rect x="242" y="624" width="3" height="17" fill="#2f9e2f"/>
<rect x="246" y="623" width="3" height="18" fill="#2f9e2f"/>
<rect x="250" y="622" width="3" height="19" fill="#2f9e2f"/>
<rect x="254" y="620" width="3" height="21" fill="#2f9e2f"/>
<rect x="258" y="621" width="3" height="20" fill="#9b3232"/>
<rect x="262" y="621" width="3" height="20" fill="#9b3232"/>
<rect x="266" y="622" width="3" height="19" fill="#9b3232"/>
<rect x="270" y="624" width="3" height="17" fill="#9b3232"/>
<rect x="274" y="627" width="3" height="14" fill="#9b3232"/>
<rect x="278" y="628" width="3" height="13" fill="#9b3232"/>
<rect x="282" y="629" width="3" height="12" fill="#9b3232"/>
<rect x="286" y="632" width="3" height="9" fill="#9b3232"/>
<rect x="290" y="632" width="3" height="9" fill="#9b3232"/>
<rect x="294" y="631" width="3" height="10" fill="#2f9e2f"/>
<rect x="298" y="631" width="3" height="10" fill="#2f9e2f"/>
<rect x="302" y="630" width="3" height="11" fill="#2f9e2f"/>
<rect x="306" y="627" width="3" height="14" fill="#2f9e2f"/>
<rect x="310" y="626" width="3" height="15" fill="#2f9e2f"/>
<rect x="314" y="627" width="3" height="14" fill="#9b3232"/>
<rect x="318" y="628" width="3" height="13" fill="#9b3232"/>
<rect x="322" y="628" width="3" height="13" fill="#9b3232"/>
<rect x="326" y="631" width="3" height="10" fill="#9b3232"/>
<rect x="330" y="633" width="3" height="8" fill="#9b3232"/>
<rect x="334" y="634" width="3" height="7" fill="#9b3232"/>
<rect x="338" y="634" width="3" height="7" fill="#2f9e2f"/>
<rect x="342" y="635" width="3" height="6" fill="#9b3232"/>
<rect x="346" y="634" width="3" height="7" fill="#2f9e2f"/>
<rect x="350" y="633" width="3" height="8" fill="#2f9e2f"/>
<rect x="354" y="634" width="3" height="7" fill="#9b3232"/>
<rect x="358" y="635" width="3" height="6" fill="#9b3232"/>
<rect x="362" y="634" width="3" height="7" fill="#2f9e2f"/>
<rect x="366" y="633" width="3" height="8" fill="#2f9e2f"/>
<rect x="370" y="633" width="3" height="8" fill="#9b3232"/>
<rect x="374" y="634" width="3" height="7" fill="#9b3232"/>
<rect x="378" y="635" width="3" height="6" fill="#9b3232"/>
<rect x="382" y="637" width="3" height="4" fill="#9b3232"/>
<rect x="386" y="639" width="3" height="2" fill="#9b3232"/>
<rect x="390" y="638" width="3" height="3" fill="#2f9e2f"/>
<rect x="394" y="638" width="3" height="3" fill="#2f9e2f"/>
<rect x="398" y="638" width="3" height="3" fill="#2f9e2f"/>
<rect x="402" y="637" width="3" height="4" fill="#2f9e2f"/>
<rect x="406" y="638" width="3" height="3" fill="#9b3232"/>
<rect x="414" y="640" width="3" height="3" fill="#9b3232"/>
<rect x="418" y="640" width="3" height="4" fill="#9b3232"/>
<rect x="422" y="640" width="3" height="4" fill="#9b3232"/>
<rect x="426" y="640" width="3" height="4" fill="#9b3232"/>
<rect x="430" y="640" width="3" height="5" fill="#9b3232"/>
<rect x="434" y="640" width="3" height="6" fill="#9b3232"/>
<rect x="438" y="640" width="3" height="6" fill="#9b3232"/>
<rect x="442" y="640" width="3" height="7" fill="#9b3232"/>
<rect x="446" y="640" width="3" height="9" fill="#9b3232"/>
<rect x="450" y="640" width="3" height="13" fill="#9b3232"/>
<rect x="454" y="640" width="3" height="17" fill="#9b3232"/>
<rect x="458" y="640" width="3" height="24" fill="#9b3232"/>
<rect x="462" y="640" width="3" height="31" fill="#9b3232"/>
<rect x="466" y="640" width="3" height="34" fill="#9b3232"/>
<rect x="470" y="640" width="3" height="33" fill="#2f9e2f"/>
<rect x="474" y="640" width="3" height="30" fill="#2f9e2f"/>
<rect x="478" y="640" width="3" height="26" fill="#2f9e2f"/>
<rect x="482" y="640" width="3" height="22" fill="#2f9e2f"/>
<rect x="486" y="640" width="3" height="17" fill="#2f9e2f"/>
<rect x="490" y="640" width="3" height="13" fill="#2f9e2f"/>
<rect x="494" y="640" width="3" height="10" fill="#2f9e2f"/>
<rect x="498" y="640" width="3" height="6" fill="#2f9e2f"/>
<rect x="502" y="640" width="3" height="3" fill="#2f9e2f"/>
<rect x="510" y="637" width="3" height="4" fill="#2f9e2f"/>
<rect x="514" y="635" width="3" height="6" fill="#2f9e2f"/>
<rect x="518" y="635" width="3" height="6" fill="#2f9e2f"/>
<rect x="522" y="634" width="3" height="7" fill="#2f9e2f"/>
<rect x="526" y="633" width="3" height="8" fill="#2f9e2f"/>
<rect x="530" y="632" width="3" height="9" fill="#2f9e2f"/>
<rect x="534" y="632" width="3" height="9" fill="#2f9e2f"/>
<rect x="538" y="631" width="3" height="10" fill="#2f9e2f"/>
<rect x="542" y="629" width="3" height="12" fill="#2f9e2f"/>
<rect x="546" y="628" width="3" height="13" fill="#2f9e2f"/>
<rect x="550" y="625" width="3" height="16" fill="#2f9e2f"/>
<rect x="554" y="620" width="3" height="21" fill="#2f9e2f"/>
<rect x="558" y="615" width="3" height="26" fill="#2f9e2f"/>
<rect x="562" y="608" width="3" height="33" fill="#2f9e2f"/>
<rect x="566" y="602" width="3" height="39" fill="#2f9e2f"/>
<rect x="570" y="597" width="3" height="44" fill="#2f9e2f"/>
<rect x="574" y="593" width="3" height="48" fill="#2f9e2f"/>
<rect x="578" y="592" width="3" height="49" fill="#2f9e2f"/>
<rect x="582" y="593" width="3" height="48" fill="#9b3232"/>
<rect x="586" y="595" width="3" height="46" fill="#9b3232"/>
<rect x="590" y="598" width="3" height="43" fill="#9b3232"/>
<rect x="594" y="600" width="3" height="41" fill="#9b3232"/>
<rect x="598" y="600" width="3" height="41" fill="#9b3232"/>
<rect x="602" y="601" width="3" height="40" fill="#9b3232"/>
<rect x="606" y="600" width="3" height="41" fill="#2f9e2f"/>
<rect x="610" y="600" width="3" height="41" fill="#9b3232"/>
<rect x="614" y="601" width="3" height="40" fill="#9b3232"/>
<rect x="618" y="603" width="3" height="38" fill="#9b3232"/>
<rect x="622" y="606" width="3" height="35" fill="#9b3232"/>
<rect x="626" y="610" width="3" height="31" fill="#9b3232"/>
<rect x="630" y="613" width="3" height="28" fill="#9b3232"/>
<rect x="634" y="615" width="3" height="26" fill="#9b3232"/>
<rect x="638" y="617" width="3" height="24" fill="#9b3232"/>
<rect x="642" y="618" width="3" height="23" fill="#9b3232"/>
<rect x="646" y="621" width="3" height="20" fill="#9b3232"/>
<rect x="650" y="625" width="3" height="16" fill="#9b3232"/>
<rect x="654" y="630" width="3" height="11" fill="#9b3232"/>
<rect x="658" y="634" width="3" height="7" fill="#9b3232"/>
<rect x="662" y="638" width="3" height="3" fill="#9b3232"/>
<rect x="666" y="639" width="3" height="2" fill="#9b3232"/>
<rect x="670" y="640" width="3" height="1" fill="#9b3232"/>
<rect x="674" y="640" width="3" height="4" fill="#9b3232"/>
<rect x="678" y="640" width="3" height="7" fill="#9b3232"/>
<rect x="682" y="640" width="3" height="9" fill="#9b3232"/>
<rect x="686" y="640" width="3" height="13" fill="#9b3232"/>
<rect x="690" y="640" width="3" height="16" fill="#9b3232"/>
<rect x="694" y="640" width="3" height="19" fill="#9b3232"/>
<rect x="698" y="640" width="3" height="23" fill="#9b3232"/>
<rect x="702" y="640" width="3" height="25" fill="#9b3232"/>
<rect x="706" y="640" width="3" height="26" fill="#9b3232"/>
<rect x="710" y="640" width="3" height="25" fill="#2f9e2f"/>
<rect x="714" y="640" width="3" height="24" fill="#2f9e2f"/>
<rect x="718" y="640" width="3" height="21" fill="#2f9e2f"/>
<rect x="722" y="640" width="3" height="19" fill="#2f9e2f"/>
<rect x="726" y="640" width="3" height="15" fill="#2f9e2f"/>
<rect x="730" y="640" width="3" height="9" fill="#2f9e2f"/>
<rect x="734" y="640" width="3" height="4" fill="#2f9e2f"/>
<rect x="738" y="638" width="3" height="3" fill="#2f9e2f"/>
<rect x="742" y="631" width="3" height="10" fill="#2f9e2f"/>
<rect x="746" y="627" width="3" height="14" fill="#2f9e2f"/>
<rect x="750" y="625" width="3" height="16" fill="#2f9e2f"/>
<rect x="754" y="624" width="3" height="17" fill="#2f9e2f"/>
<rect x="758" y="624" width="3" height="17" fill="#9b3232"/>
<rect x="762" y="625" width="3" height="16" fill="#9b3232"/>
<rect x="766" y="627" width="3" height="14" fill="#9b3232"/>
<rect x="770" y="630" width="3" height="11" fill="#9b3232"/>
<rect x="774" y="635" width="3" height="6" fill="#9b3232"/>
<rect x="778" y="639" width="3" height="2" fill="#9b3232"/>
<rect x="782" y="640" width="3" height="2" fill="#9b3232"/>
<rect x="786" y="640" width="3" height="6" fill="#9b3232"/>
<rect x="790" y="640" width="3" height="9" fill="#9b3232"/>
<rect x="794" y="640" width="3" height="10" fill="#9b3232"/>
<rect x="798" y="640" width="3" height="9" fill="#2f9e2f"/>
<rect x="802" y="640" width="3" height="8" fill="#2f9e2f"/>
<rect x="806" y="640" width="3" height="5" fill="#2f9e2f"/>
<rect x="810" y="639" width="3" height="2" fill="#2f9e2f"/>
<rect x="814" y="634" width="3" height="7" fill="#2f9e2f"/>
<rect x="818" y="631" width="3" height="10" fill="#2f9e2f"/>
<rect x="822" y="629" width="3" height="12" fill="#2f9e2f"/>
</g>
<g id="rsi">
<polygon points="549.9,701.5 551.5,697.5 555.5,697.2 559.5,688.4 563.5,689.4 567.5,687.2 571.5,691.5 575.5,695.4 579.5,694.4 583.5,694.4 587.5,697.5 591.5,694.4 595.5,693.1 599.5,691.5 603.5,690.6 607.5,690.4 611.5,690.4 615.5,691.5 619.5,698.1 623.5,699.4 625.6,701.5" fill="#aecbae"/>
<polygon points="629.4,701.5 631.5,699.4 635.5,696.2 637.6,701.5" fill="#aecbae"/>
<g shape-rendering="crispEdges">
<line x1="0" y1="701.5" x2="958" y2="701.5" stroke="#000" stroke-width="1"/>
<line x1="0" y1="748.5" x2="958" y2="748.5" stroke="#000" stroke-width="1"/>
<line x1="0" y1="725.5" x2="958" y2="725.5" stroke="#000" stroke-width="1" stroke-dasharray="4 3"/>
</g>
<polyline fill="none" stroke="#000" stroke-width="1.1" stroke-linejoin="round" points="0.0,720.4 3.5,720.4 7.5,720.4 11.5,721.2 15.5,721.2 19.5,721.2 23.5,721.2 27.5,705.6 31.5,705.4 35.5,704.4 39.5,703.4 43.5,703.4 47.5,713.4 51.5,712.5 55.5,714.4 59.5,710.4 63.5,709.4 67.5,719.6 71.5,709.6 75.5,708.5 79.5,708.5 83.5,709.4 87.5,708.5 91.5,718.5 95.5,715.6 99.5,712.5 103.5,712.2 107.5,707.2 111.5,711.2 115.5,710.4 119.5,714.1 123.5,714.4 127.5,737.5 131.5,734.4 135.5,738.4 139.5,729.6 143.5,728.1 147.5,720.4 151.5,720.0 155.5,718.4 159.5,718.1 163.5,717.1 167.5,723.4 171.5,722.2 175.5,726.6 179.5,718.4 183.5,717.1 187.5,722.2 191.5,722.5 195.5,731.0 199.5,735.2 203.5,736.5 207.5,725.6 211.5,716.5 215.5,714.4 219.5,714.4 223.5,714.4 227.5,709.4 231.5,711.5 235.5,708.5 239.5,707.1 243.5,708.1 247.5,709.6 251.5,702.2 255.5,705.6 259.5,709.4 263.5,709.4 267.5,709.4 271.5,721.2 275.5,715.4 279.5,719.4 283.5,719.6 287.5,728.8 291.5,712.5 295.5,715.4 299.5,713.4 303.5,713.1 307.5,711.2 311.5,709.4 315.5,715.4 319.5,717.1 323.5,717.2 327.5,733.1 331.5,716.5 335.5,716.5 339.5,720.2 343.5,720.4 347.5,719.1 351.5,716.5 355.5,721.2 359.5,717.2 363.5,717.1 367.5,710.0 371.5,726.5 375.5,720.2 379.5,729.6 383.5,728.4 387.5,717.2 391.5,722.2 395.5,721.2 399.5,725.4 403.5,725.4 407.5,729.4 411.5,729.4 415.5,729.4 419.5,725.4 423.5,724.1 427.5,729.4 431.5,736.5 435.5,730.6 439.5,725.4 443.5,725.4 447.5,744.4 451.5,746.5 455.5,749.1 459.5,749.1 463.5,749.1 467.5,741.9 471.5,733.4 475.5,735.4 479.5,732.2 483.5,733.5 487.5,724.1 491.5,723.1 495.5,721.2 499.5,720.2 503.5,720.2 507.5,718.1 511.5,713.4 515.5,713.4 519.5,719.4 523.5,720.4 527.5,715.4 531.5,717.2 535.5,713.4 539.5,713.4 543.5,713.4 547.5,707.5 551.5,697.5 555.5,697.2 559.5,688.4 563.5,689.4 567.5,687.2 571.5,691.5 575.5,695.4 579.5,694.4 583.5,694.4 587.5,697.5 591.5,694.4 595.5,693.1 599.5,691.5 603.5,690.6 607.5,690.4 611.5,690.4 615.5,691.5 619.5,698.1 623.5,699.4 627.5,703.4 631.5,699.4 635.5,696.2 639.5,706.2 643.5,706.2 647.5,730.4 651.5,725.2 655.5,721.2 659.5,725.2 663.5,725.2 667.5,726.5 671.5,733.4 675.5,731.2 679.5,734.4 683.5,734.4 687.5,744.4 691.5,747.5 695.5,745.2 699.5,746.2 703.5,746.2 707.5,746.2 711.5,733.4 715.5,734.4 719.5,733.4 723.5,734.4 727.5,711.2 731.5,708.5 735.5,707.1 739.5,702.2 743.5,703.4 747.5,701.6 751.5,704.0 755.5,706.2 759.5,717.2 763.5,718.4 767.5,720.0 771.5,737.2 775.5,738.4 779.5,732.2 783.5,731.2 787.5,742.1 791.5,743.5 795.5,738.1 799.5,723.5 803.5,723.4 807.5,718.4 811.5,715.6 815.5,714.4 819.5,713.5 823.5,713.4"/>
</g>
<g id="tags">
<path d="M959.5 241.5 L965 234.5 L1019.5 234.5 Q1021.5 234.5 1021.5 236.5 L1021.5 246.5 Q1021.5 248.5 1019.5 248.5 L965 248.5 Z" fill="url(#gb)" stroke="#555" stroke-width="1"/><text class="ax" x="967.6" y="245.9" textLength="50.6" lengthAdjust="spacing">13224.40</text>
<path d="M959.5 248.5 L965 241.5 L1019.5 241.5 Q1021.5 241.5 1021.5 243.5 L1021.5 253.5 Q1021.5 255.5 1019.5 255.5 L965 255.5 Z" fill="#fff" stroke="#222" stroke-width="1"/><text class="ax" x="967.6" y="252.9" textLength="50.6" lengthAdjust="spacing">13212.04</text>
<path d="M959.5 286.5 L965 279.5 L1019.5 279.5 Q1021.5 279.5 1021.5 281.5 L1021.5 291.5 Q1021.5 293.5 1019.5 293.5 L965 293.5 Z" fill="url(#gp)" stroke="#666" stroke-width="1"/><text class="ax" x="967.6" y="290.9" textLength="50.6" lengthAdjust="spacing">13147.78</text>
<path d="M959.5 630.5 L965 623.5 L981.5 623.5 Q983.5 623.5 983.5 625.5 L983.5 635.5 Q983.5 637.5 981.5 637.5 L965 637.5 Z" fill="#fff" stroke="#222" stroke-width="1"/><text class="ax" x="967.6" y="634.9">54</text>
<path d="M959.5 702.5 L965 695.5 L991.5 695.5 Q993.5 695.5 993.5 697.5 L993.5 707.5 Q993.5 709.5 991.5 709.5 L965 709.5 Z" fill="#fff" stroke="#222" stroke-width="1"/><text class="ax" x="967.6" y="706.9">70.0</text>
<path d="M959.5 713.8 L965 706.8 L991.5 706.8 Q993.5 706.8 993.5 708.8 L993.5 718.8 Q993.5 720.8 991.5 720.8 L965 720.8 Z" fill="#fff" stroke="#222" stroke-width="1"/><text class="ax" x="967.6" y="718.1999999999999">60.0</text>
<path d="M959.5 725.4 L965 718.4 L991.5 718.4 Q993.5 718.4 993.5 720.4 L993.5 730.4 Q993.5 732.4 991.5 732.4 L965 732.4 Z" fill="#fff" stroke="#222" stroke-width="1"/><text class="ax" x="967.6" y="729.8">50.0</text>
<path d="M959.5 748.6 L965 741.6 L991.5 741.6 Q993.5 741.6 993.5 743.6 L993.5 753.6 Q993.5 755.6 991.5 755.6 L965 755.6 Z" fill="#fff" stroke="#222" stroke-width="1"/><text class="ax" x="967.6" y="753.0">30.0</text>
</g>
<g id="icons">
<polygon points="0,-5.8 5.5,-0.1 1.7,-0.1 1.7,5.8 -1.7,5.8 -1.7,-0.1 -5.5,-0.1" transform="translate(919 9.5) rotate(90)" fill="#fff" stroke="#808080" stroke-width="1"/>
<polygon points="0,-5.8 5.5,-0.1 1.7,-0.1 1.7,5.8 -1.7,5.8 -1.7,-0.1 -5.5,-0.1" transform="translate(934 9) rotate(180)" fill="#fff" stroke="#808080" stroke-width="1"/>
<polygon points="0,-5.8 5.5,-0.1 1.7,-0.1 1.7,5.8 -1.7,5.8 -1.7,-0.1 -5.5,-0.1" transform="translate(949 9) rotate(0)" fill="#fff" stroke="#808080" stroke-width="1"/>
<polygon points="0,-5.8 5.5,-0.1 1.7,-0.1 1.7,5.8 -1.7,5.8 -1.7,-0.1 -5.5,-0.1" transform="translate(934 555) rotate(0)" fill="#fff" stroke="#808080" stroke-width="1"/>
<polygon points="0,-5.8 5.5,-0.1 1.7,-0.1 1.7,5.8 -1.7,5.8 -1.7,-0.1 -5.5,-0.1" transform="translate(949 555) rotate(180)" fill="#fff" stroke="#808080" stroke-width="1"/>
<polygon points="0,-5.8 5.5,-0.1 1.7,-0.1 1.7,5.8 -1.7,5.8 -1.7,-0.1 -5.5,-0.1" transform="translate(904 597) rotate(0)" fill="#fff" stroke="#808080" stroke-width="1"/>
<polygon points="0,-5.8 5.5,-0.1 1.7,-0.1 1.7,5.8 -1.7,5.8 -1.7,-0.1 -5.5,-0.1" transform="translate(919 597) rotate(180)" fill="#fff" stroke="#808080" stroke-width="1"/>
<rect x="929.2" y="592.3" width="10.6" height="6.6" rx="1" fill="#fff" stroke="#7a7a7a" stroke-width="1.2"/><rect x="929.2" y="598.9" width="4.6" height="3.6" fill="#fff" stroke="#7a7a7a" stroke-width="1.2"/><rect x="933.8000000000001" y="598.9" width="4.2" height="3.6" fill="#fff" stroke="#7a7a7a" stroke-width="1.2"/>
<polygon points="-3.4,-6 0,-2.6 3.4,-6 6,-3.4 2.6,0 6,3.4 3.4,6 0,2.6 -3.4,6 -6,3.4 -2.6,0 -6,-3.4" transform="translate(949.8 597.5)" fill="#fff" stroke="#6f6f6f" stroke-width="1" stroke-dasharray="1.5 0.7"/>
<polygon points="0,-5.8 5.5,-0.1 1.7,-0.1 1.7,5.8 -1.7,5.8 -1.7,-0.1 -5.5,-0.1" transform="translate(919 689.5) rotate(0)" fill="#fff" stroke="#808080" stroke-width="1"/>
<rect x="929.2" y="684.6" width="10.6" height="6.6" rx="1" fill="#fff" stroke="#7a7a7a" stroke-width="1.2"/><rect x="929.2" y="691.2" width="4.6" height="3.6" fill="#fff" stroke="#7a7a7a" stroke-width="1.2"/><rect x="933.8000000000001" y="691.2" width="4.2" height="3.6" fill="#fff" stroke="#7a7a7a" stroke-width="1.2"/>
<polygon points="-3.4,-6 0,-2.6 3.4,-6 6,-3.4 2.6,0 6,3.4 3.4,6 0,2.6 -3.4,6 -6,3.4 -2.6,0 -6,-3.4" transform="translate(949.8 689.8)" fill="#fff" stroke="#6f6f6f" stroke-width="1" stroke-dasharray="1.5 0.7"/>
<polygon points="1.5,554.5 6.5,550.5 6.5,552.7 9.5,552.7 9.5,550.5 14.5,554.5 9.5,558.5 9.5,556.3 6.5,556.3 6.5,558.5" fill="#fff" stroke="#808080" stroke-width="1"/>
<polygon points="18.5,552.5 22.5,552.5 22.5,550.5 27,554.5 22.5,558.5 22.5,556.5 18.5,556.5" fill="#fff" stroke="#808080" stroke-width="1"/>
<polygon points="35,552.5 31,552.5 31,550.5 26.5,554.5 31,558.5 31,556.5 35,556.5" fill="#fff" stroke="#808080" stroke-width="1"/>
</g>
<g id="note">
<rect x="188.3" y="93.6" width="236.5" height="115.6" rx="9" fill="#000" opacity="0.8" filter="url(#sh)"/>
<rect x="184.8" y="89.9" width="236.5" height="115.8" rx="9" fill="#0000ff"/>
<rect x="191" y="96" width="224.1" height="103.9" rx="2.5" fill="#fff"/>
<text x="203.5" y="132.8" font-size="27.6" fill="#0000ff" textLength="188.3" lengthAdjust="spacingAndGlyphs">Bullish scenario</text>
<text x="203.5" y="169.4" font-size="27.6" fill="#0000ff" textLength="160.8" lengthAdjust="spacingAndGlyphs">remains valid</text>
</g>
</svg></body></html>
